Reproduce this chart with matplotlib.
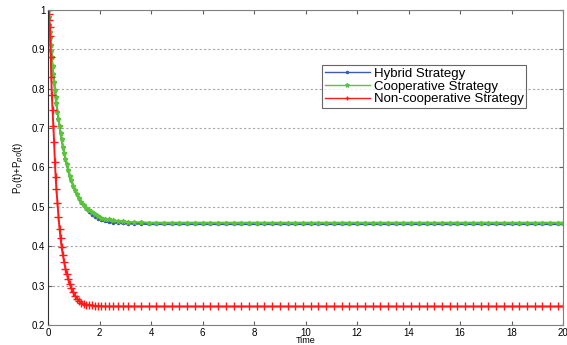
import matplotlib
matplotlib.use('Agg')
import matplotlib.pyplot as plt

plt.rcParams['font.family'] = ['Liberation Sans', 'DejaVu Sans']

t = [0, 0.02, 0.04, 0.06, 0.08, 0.10, 0.12, 0.14, 0.17, 0.20, 0.23, 0.26, 0.29,
     0.32, 0.36, 0.40, 0.44, 0.48, 0.52, 0.57, 0.62, 0.67, 0.72, 0.78, 0.84,
     0.90, 0.97, 1.04, 1.12, 1.20, 1.29, 1.38, 1.48, 1.58, 1.69, 1.80, 1.92,
     2.05, 2.20, 2.35, 2.50, 2.70, 2.90, 3.10, 3.35, 3.60, 3.90, 4.20, 4.50,
     4.80, 5.10, 5.40, 5.70, 6.00, 6.3, 6.6, 6.9, 7.2, 7.5, 7.8, 8.1, 8.4, 8.7,
     9.0, 9.3, 9.6, 9.9, 10.2, 10.5, 10.8, 11.1, 11.4, 11.7, 12.0, 12.3, 12.6,
     12.9, 13.2, 13.5, 13.8, 14.1, 14.4, 14.7, 15.0, 15.3, 15.6, 15.9, 16.2,
     16.5, 16.8, 17.1, 17.4, 17.7, 18.0, 18.3, 18.6, 18.9, 19.2, 19.5, 19.8, 20.0]

cooperative = [1.000, 0.981, 0.962, 0.945, 0.928, 0.911, 0.895, 0.880, 0.857,
               0.837, 0.817, 0.798, 0.780, 0.763, 0.742, 0.723, 0.705, 0.687,
               0.672, 0.653, 0.637, 0.621, 0.608, 0.593, 0.579, 0.567, 0.554,
               0.543, 0.532, 0.522, 0.513, 0.505, 0.498, 0.491, 0.486, 0.481,
               0.477, 0.473, 0.470, 0.468, 0.466, 0.464, 0.463, 0.462, 0.461,
               0.461] + [0.460] * 55

hybrid = [1.000, 0.981, 0.962, 0.945, 0.928, 0.911, 0.895, 0.880, 0.857,
          0.837, 0.817, 0.798, 0.780, 0.763, 0.742, 0.723, 0.705, 0.687,
          0.672, 0.653, 0.637, 0.621, 0.608, 0.593, 0.579, 0.567, 0.554,
          0.543, 0.532, 0.521, 0.511, 0.502, 0.494, 0.487, 0.480, 0.475,
          0.470, 0.466, 0.463, 0.461, 0.460, 0.459, 0.458, 0.457, 0.457,
          0.457] + [0.456] * 55

noncooperative = [1.000, 0.990, 0.975, 0.958, 0.935, 0.880, 0.830, 0.785,
                  0.745, 0.705, 0.665, 0.615, 0.575, 0.545, 0.510, 0.475,
                  0.445, 0.420, 0.398, 0.378, 0.360, 0.343, 0.330, 0.317,
                  0.303, 0.293, 0.283, 0.274, 0.267, 0.261, 0.257, 0.254,
                  0.252, 0.251, 0.250, 0.249, 0.248, 0.248] + [0.247] * 63

fig = plt.figure(figsize=(5.67, 3.45), dpi=100)
ax = fig.add_axes([0.085, 0.058, 0.908, 0.913])

ax.plot(t, hybrid, color='#3a5bb0', marker='.', markersize=3, lw=1.4,
        label='Hybrid Strategy')
ax.plot(t, cooperative, color='#5cc43c', marker='*', markersize=3.5, lw=1.4,
        label='Cooperative Strategy')
ax.plot(t, noncooperative, color='#ff1a1a', marker='+', markersize=6, lw=1.4,
        label='Non-cooperative Strategy')

ax.set_xlim(0, 20)
ax.set_ylim(0.2, 1)
ax.set_xticks(range(0, 21, 2))
ax.set_yticks([0.2, 0.3, 0.4, 0.5, 0.6, 0.7, 0.8, 0.9, 1])
ax.set_yticklabels(['0.2', '0.3', '0.4', '0.5', '0.6', '0.7', '0.8', '0.9', '1'])
ax.yaxis.grid(True, linestyle=(0, (2, 2)), color='#a8a8a8', lw=0.8)
ax.tick_params(direction='in', top=True, right=True, labelsize=7,
               length=3, color='#606060', pad=2)
for s in ax.spines.values():
    s.set_color('#808080')
ax.spines['left'].set_color('#303030')
ax.set_xlabel('Time', fontsize=6.5, labelpad=-1)
ax.set_ylabel('P$_0$(t)+P$_{p0}$(t)', fontsize=7, labelpad=4)

leg = ax.legend(loc='upper left', bbox_to_anchor=(0.532, 0.826), fontsize=9.5,
                frameon=True, fancybox=False, borderpad=0.2, labelspacing=0.05,
                handlelength=3.4, handletextpad=0.3, borderaxespad=0)
leg.get_frame().set_edgecolor('#404040')
leg.get_frame().set_linewidth(0.8)
for h in leg.get_lines():
    h.set_linewidth(1.0)
    h.set_markersize(3)

fig.savefig('out.png', dpi=100)
